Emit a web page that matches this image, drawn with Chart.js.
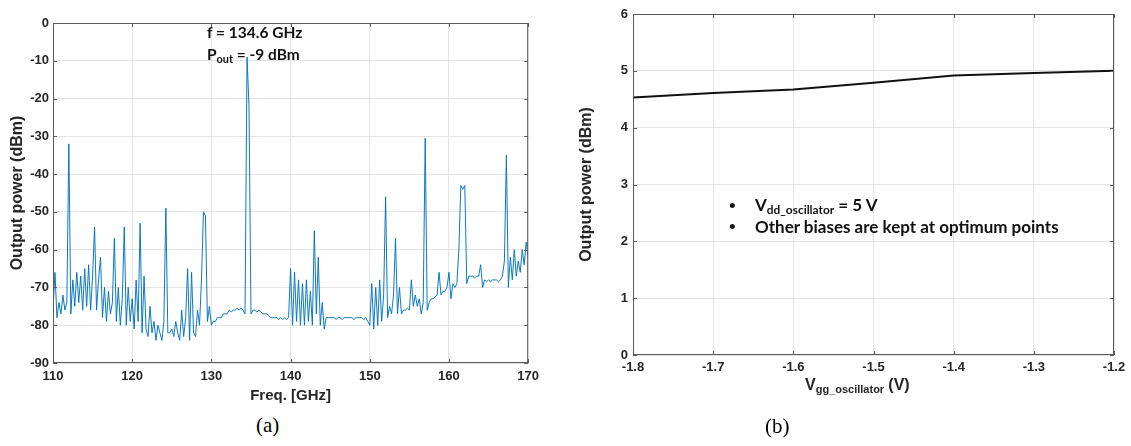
<!DOCTYPE html>
<html>
<head>
<meta charset="utf-8">
<script src="https://cdn.jsdelivr.net/npm/chart.js@4"></script>
<style>
html, body { margin: 0; padding: 0; background: #fff; }
body { width: 1131px; height: 446px; position: relative; overflow: hidden; font-family: "Liberation Sans", Arial, sans-serif; }
.wrap { position: absolute; }
.note { position: absolute; font-family: Lato, "Open Sans", sans-serif; font-weight: bold; color: #111; white-space: nowrap; line-height: 1; }
.note sub { font-size: 0.7em; vertical-align: -0.25em; }
.dot { position: absolute; font-family: "Liberation Sans", Arial, sans-serif; font-size: 19px; color: #111; line-height: 1; }
.axt { position: absolute; font-family: "Liberation Sans", Arial, sans-serif; font-weight: bold; color: #262626; font-size: 15px; white-space: nowrap; line-height: 1; }
.axt sub { font-size: 11px; vertical-align: -0.3em; }
.cap { position: absolute; font-family: "Liberation Serif", "Times New Roman", serif; font-size: 21px; color: #000; line-height: 1; }
</style>
</head>
<body>
<div class="wrap" style="left:0;top:0;width:545px;height:410px;"><canvas id="chart-spec"></canvas></div>
<div class="wrap" style="left:560px;top:0;width:571px;height:410px;"><canvas id="chart-vgg"></canvas></div>

<div class="note" style="left:207px;top:25px;font-size:15.5px;">f = 134.6 GHz</div>
<div class="note" style="left:207px;top:47px;font-size:15.5px;">P<sub>out</sub> = -9 dBm</div>

<div class="dot" style="left:729px;top:196px;">•</div>
<div class="dot" style="left:729px;top:217px;">•</div>
<div class="note" style="left:755px;top:196px;font-size:17px;">V<sub>dd_oscillator</sub> = 5 V</div>
<div class="note" style="left:755px;top:218px;font-size:17px;">Other biases are kept at optimum points</div>

<div class="axt" style="left:805px;top:377px;"><span style="font-size:16px;">V</span><sub>gg_oscillator</sub> <span style="font-size:16px;">(V)</span></div>

<div class="cap" style="left:256px;top:415px;">(a)</div>
<div class="cap" style="left:765px;top:416px;">(b)</div>

<script>
// spectrum (a)
const freqGHz = [
  110, 110.25, 110.5, 110.75,
  111, 111.25, 111.5, 111.75,
  112, 112.25, 112.5, 112.75,
  113, 113.25, 113.5, 113.75,
  114, 114.25, 114.5, 114.75,
  115, 115.25, 115.5, 115.75,
  116, 116.25, 116.5, 116.75,
  117, 117.25, 117.5, 117.75,
  118, 118.25, 118.5, 118.75,
  119, 119.25, 119.5, 119.75,
  120, 120.25, 120.5, 120.75,
  121, 121.25, 121.5, 121.75,
  122, 122.25, 122.5, 122.75,
  123, 123.25, 123.5, 123.75,
  124, 124.25, 124.5, 124.75,
  125, 125.25, 125.5, 125.75,
  126, 126.25, 126.5, 126.75,
  127, 127.25, 127.5, 127.75,
  128, 128.25, 128.5, 128.75,
  129, 129.25, 129.5, 129.75,
  130, 130.25, 130.5, 130.75,
  131, 131.25, 131.5, 131.75,
  132, 132.25, 132.5, 132.75,
  133, 133.25, 133.5, 133.75,
  134, 134.25, 134.5, 134.75,
  135, 135.25, 135.5, 135.75,
  136, 136.25, 136.5, 136.75,
  137, 137.25, 137.5, 137.75,
  138, 138.25, 138.5, 138.75,
  139, 139.25, 139.5, 139.75,
  140, 140.25, 140.5, 140.75,
  141, 141.25, 141.5, 141.75,
  142, 142.25, 142.5, 142.75,
  143, 143.25, 143.5, 143.75,
  144, 144.25, 144.5, 144.75,
  145, 145.25, 145.5, 145.75,
  146, 146.25, 146.5, 146.75,
  147, 147.25, 147.5, 147.75,
  148, 148.25, 148.5, 148.75,
  149, 149.25, 149.5, 149.75,
  150, 150.25, 150.5, 150.75,
  151, 151.25, 151.5, 151.75,
  152, 152.25, 152.5, 152.75,
  153, 153.25, 153.5, 153.75,
  154, 154.25, 154.5, 154.75,
  155, 155.25, 155.5, 155.75,
  156, 156.25, 156.5, 156.75,
  157, 157.25, 157.5, 157.75,
  158, 158.25, 158.5, 158.75,
  159, 159.25, 159.5, 159.75,
  160, 160.25, 160.5, 160.75,
  161, 161.25, 161.5, 161.75,
  162, 162.25, 162.5, 162.75,
  163, 163.25, 163.5, 163.75,
  164, 164.25, 164.5, 164.75,
  165, 165.25, 165.5, 165.75,
  166, 166.25, 166.5, 166.75,
  167, 167.25, 167.5, 167.75,
  168, 168.25, 168.5, 168.75,
  169, 169.25, 169.5, 169.75,
  170
];
const powerDbm = [
  -76, -66, -78, -74,
  -77, -72, -76, -74,
  -32, -77, -68, -75,
  -66, -74, -67, -76,
  -65, -75, -64, -76,
  -67, -54, -76, -68,
  -62, -78, -70, -79,
  -71, -77, -74, -57,
  -79, -70, -80, -73,
  -54, -80, -70, -79,
  -73, -81, -68, -79,
  -53, -82, -67, -81,
  -83, -75, -82, -79,
  -84, -80, -82, -84,
  -79, -49, -82, -82,
  -81, -83, -79, -82,
  -84, -76, -83, -78,
  -65, -84, -66, -82,
  -83, -76, -80, -68,
  -50, -51, -79, -75,
  -80, -79, -79, -78,
  -78, -78, -77, -77,
  -77, -76, -76.5, -76,
  -76, -75.5, -76, -75.5,
  -76, -77, -9, -22,
  -77, -76, -76, -76.5,
  -76, -76.5, -77, -77,
  -77, -77.5, -78, -78,
  -78, -78, -78.5, -78,
  -78.5, -78, -78.5, -78,
  -65, -80, -66, -79,
  -68, -80, -69, -80,
  -68, -79, -71, -80,
  -55, -77, -62, -80,
  -74, -81, -78, -78,
  -78, -78, -78, -78.5,
  -78, -78, -78.5, -78,
  -78, -78, -78, -78,
  -78.5, -78, -78, -78,
  -78, -78.5, -78, -79,
  -80, -69, -81, -70,
  -80, -68, -79, -72,
  -46, -78, -75, -77,
  -72, -57, -77, -70,
  -77, -76, -76, -75.5,
  -76, -68, -75, -72,
  -75, -73, -77, -74,
  -30.5, -76, -74, -73,
  -73, -72.5, -72, -66,
  -72, -71, -71, -70,
  -66, -73, -69, -70,
  -69, -60, -43, -44,
  -43, -69, -67, -67,
  -67, -67.5, -67, -67,
  -64, -70, -68, -68.5,
  -68, -68.5, -68, -68,
  -68, -68.5, -68, -67,
  -63, -35, -70, -62,
  -68, -60, -67, -63,
  -66, -60, -64, -58,
  -62
];

// output power vs Vgg (b)
const vggV = [-1.8, -1.7, -1.6, -1.5, -1.4, -1.3, -1.2];
const poutDbm = [4.53, 4.61, 4.67, 4.79, 4.92, 4.96, 5.0];

Chart.defaults.font.family = '"Liberation Sans", Arial, sans-serif';
Chart.defaults.color = '#262626';

// matlab style box with inward ticks
const framePlugin = {
  id: 'frame',
  afterDraw(chart) {
    const { ctx, chartArea: a, scales } = chart;
    ctx.save();
    ctx.strokeStyle = '#5a5a5a';
    ctx.lineWidth = 1;
    ctx.strokeRect(a.left + 0.5, a.top + 0.5, a.right - a.left - 1, a.bottom - a.top - 1);
    ctx.beginPath();
    scales.x.ticks.forEach(t => {
      const px = Math.round(scales.x.getPixelForValue(t.value)) + 0.5;
      ctx.moveTo(px, a.bottom); ctx.lineTo(px, a.bottom - 4);
      ctx.moveTo(px, a.top); ctx.lineTo(px, a.top + 4);
    });
    scales.y.ticks.forEach(t => {
      const py = Math.round(scales.y.getPixelForValue(t.value)) + 0.5;
      ctx.moveTo(a.left, py); ctx.lineTo(a.left + 4, py);
      ctx.moveTo(a.right, py); ctx.lineTo(a.right - 4, py);
    });
    ctx.stroke();
    ctx.restore();
  }
};

const tickFont = { size: 13, weight: 'bold' };
const titleFont = { size: 15, weight: 'bold' };
const yTitleFont = { size: 16, weight: 'bold' };

const specPoints = freqGHz.map((f, i) => ({ x: f, y: powerDbm[i] }));

const chartSpec = new Chart(document.getElementById('chart-spec').getContext('2d'), {
  type: 'line',
  data: {
    datasets: [{
      data: specPoints,
      borderColor: 'rgba(0, 114, 189, 0.95)',
      borderWidth: 1,
      pointRadius: 0,
      tension: 0,
      fill: false
    }]
  },
  options: {
    responsive: true,
    maintainAspectRatio: false,
    animation: false,
    layout: { padding: { top: 23, right: 13, left: 0, bottom: 0 } },
    plugins: { legend: { display: false }, tooltip: { enabled: false } },
    scales: {
      x: {
        type: 'linear',
        min: 110,
        max: 170,
        ticks: { stepSize: 10, padding: 6, font: tickFont, maxRotation: 0 },
        grid: { color: '#e4e4e4', drawTicks: false },
        border: { display: false },
        title: { display: true, text: 'Freq. [GHz]', font: titleFont, padding: { top: 0, bottom: 5 } },
        afterFit(s) { s.height = 47; }
      },
      y: {
        min: -90,
        max: 0,
        ticks: { stepSize: 10, padding: 4, font: tickFont },
        grid: { color: '#e4e4e4', drawTicks: false },
        border: { display: false },
        title: { display: true, text: 'Output power (dBm)', font: yTitleFont, padding: { top: 8, bottom: 0 } },
        afterFit(s) { s.width = 53; }
      }
    }
  },
  plugins: [framePlugin]
});

const chartVgg = new Chart(document.getElementById('chart-vgg').getContext('2d'), {
  type: 'line',
  data: {
    labels: vggV,
    datasets: [{
      data: vggV.map((v, i) => ({ x: v, y: poutDbm[i] })),
      borderColor: '#111',
      borderWidth: 2,
      pointRadius: 0,
      tension: 0,
      fill: false
    }]
  },
  options: {
    responsive: true,
    maintainAspectRatio: false,
    animation: false,
    layout: { padding: { top: 14, right: 17, left: 0, bottom: 0 } },
    plugins: { legend: { display: false }, tooltip: { enabled: false } },
    scales: {
      x: {
        type: 'linear',
        min: -1.8,
        max: -1.2,
        ticks: { stepSize: 0.1, padding: 5, font: tickFont, maxRotation: 0, callback: v => v.toFixed(1) },
        grid: { color: '#e4e4e4', drawTicks: false },
        border: { display: false },
        title: { display: false },
        afterFit(s) { s.height = 55; }
      },
      y: {
        min: 0,
        max: 6,
        ticks: { stepSize: 1, padding: 5, font: tickFont },
        grid: { color: '#e4e4e4', drawTicks: false },
        border: { display: false },
        title: { display: true, text: 'Output power (dBm)', font: yTitleFont, padding: { top: 17, bottom: 0 } },
        afterFit(s) { s.width = 73; }
      }
    }
  },
  plugins: [framePlugin]
});
</script>
</body>
</html>
